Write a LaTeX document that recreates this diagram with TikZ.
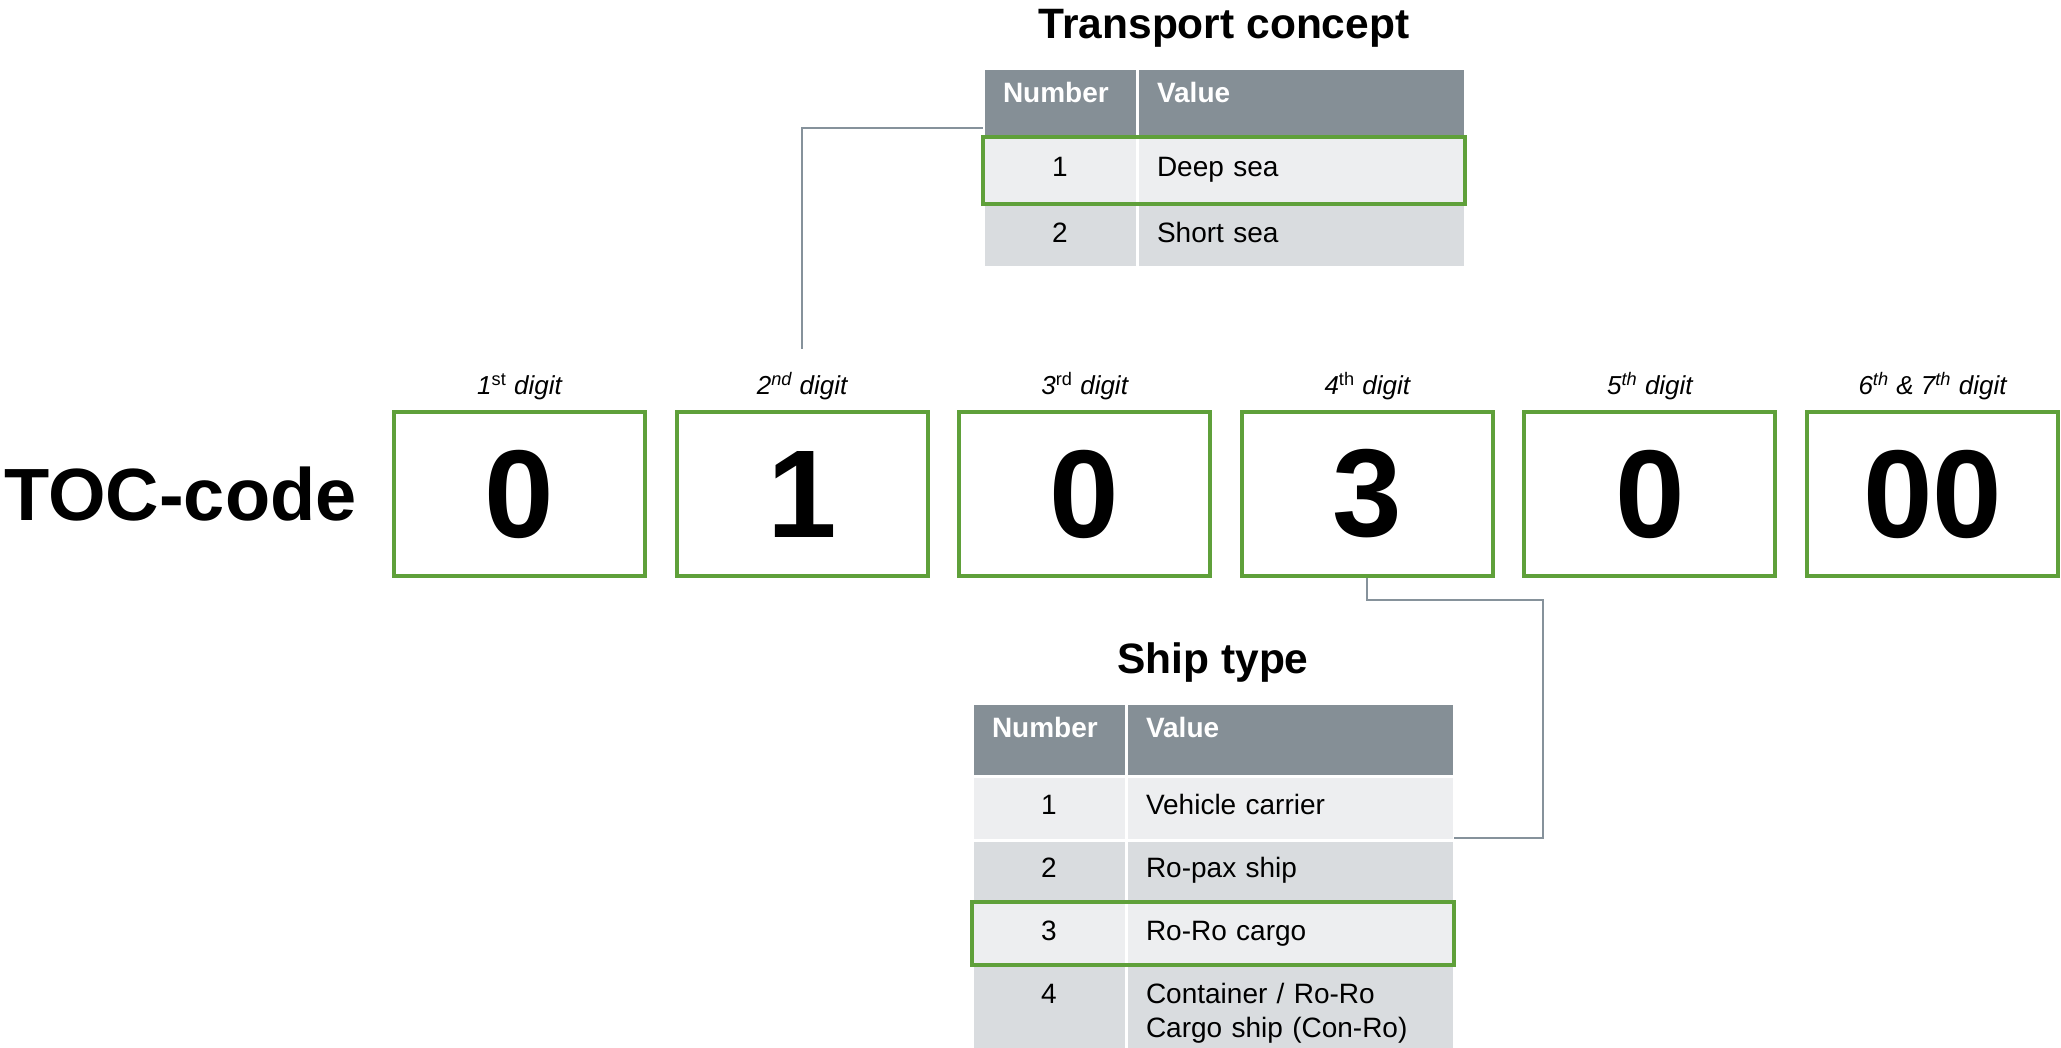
\documentclass[tikz,border=0pt]{standalone}
\usepackage{fontspec}
\setmainfont{Liberation Sans}
\usepackage{tikz}
\usetikzlibrary{positioning,fit}

\definecolor{headgray}{RGB}{133,143,150}
\definecolor{rowlight}{RGB}{237,238,240}
\definecolor{rowdark}{RGB}{217,220,223}
\definecolor{boxgreen}{RGB}{95,160,58}
\definecolor{linkgray}{RGB}{134,146,155}

\begin{document}
\begin{tikzpicture}[x=0.5pt,y=-0.5pt,
    digit/.style={draw=boxgreen, line width=2pt, minimum width=125.5pt, minimum height=82pt, inner sep=0pt,
      font=\fontsize{62.5}{70}\selectfont\bfseries},
    place/.style={inner sep=0pt, font=\fontsize{13}{15}\selectfont\itshape},
    title/.style={font=\fontsize{21.25}{25}\selectfont\bfseries},
    cell/.style={draw=white, line width=1.5pt, outer sep=0pt, inner xsep=10pt, inner ysep=6pt,
      font=\fontsize{14}{17}\selectfont, text height=10pt, text depth=3.5pt},
    numcell/.style={cell, minimum width=77pt, text width=57pt, align=center},
    valcell/.style={cell, minimum width=164pt, text width=144pt, align=left},
    headcell/.style={fill=headgray, text=white, font=\fontsize{14}{17}\selectfont\bfseries,
      inner ysep=7pt, text depth=10pt, align=left},
    pick/.style={draw=boxgreen, line width=2pt, inner sep=0pt},
    link/.style={draw=linkgray, line width=1pt}]
  \useasboundingbox (0,0) rectangle (2061,1048);

  % the code itself
  \node[digit] (d1) at (519.5,494) {0};
  \node[digit] (d2) at (802.1,494) {1};
  \node[digit] (d3) at (1084.7,494) {0};
  \node[digit] (d4) at (1367.3,494) {3};
  \node[digit] (d5) at (1649.9,494) {0};
  \node[digit] (d6) at (1932.5,494) {00};
  \node[inner sep=0pt, font=\fontsize{37}{40}\selectfont\bfseries, left=17.5pt of d1] (toc) {TOC-code};

  \node[place, above=5pt of d1] (l1) {1\textup{\textsuperscript{st}} digit};
  \node[place, above=5pt of d2] (l2) {2\textsuperscript{nd} digit};
  \node[place, above=5pt of d3] (l3) {3\textup{\textsuperscript{rd}} digit};
  \node[place, above=5pt of d4] (l4) {4\textup{\textsuperscript{th}} digit};
  \node[place, above=5pt of d5] (l5) {5\textsuperscript{th} digit};
  \node[place, above=5pt of d6] (l6) {6\textsuperscript{th} \& 7\textsuperscript{th} digit};

  % transport concept table
  \node[title, anchor=base] (tc-title) at (1224,39) {Transport concept};
  \node[numcell, headcell, minimum height=34pt, anchor=north west] (tc-hn) at (983,69) {Number};
  \node[valcell, headcell, minimum height=34pt, right=0pt of tc-hn] (tc-hv) {Value};
  \node[numcell, fill=rowlight, minimum height=33.5pt, below=0pt of tc-hn] (tc-1n) {1};
  \node[valcell, fill=rowlight, minimum height=33.5pt, right=0pt of tc-1n] (tc-1v) {Deep sea};
  \node[numcell, fill=rowdark, minimum height=32pt, below=0pt of tc-1n] (tc-2n) {2};
  \node[valcell, fill=rowdark, minimum height=32pt, right=0pt of tc-2n] (tc-2v) {Short sea};
  \node[pick, fit=(tc-1n)(tc-1v)] (tc-pick) {};

  % ship type table (last row runs off the bottom)
  \node[title, anchor=base] (st-title) at (1213,673) {Ship type};
  \node[numcell, headcell, text depth=12.5pt, minimum height=36.5pt, anchor=north west] (st-hn) at (972,703) {Number};
  \node[valcell, headcell, text depth=12.5pt, minimum height=36.5pt, right=0pt of st-hn] (st-hv) {Value};
  \node[numcell, fill=rowlight, minimum height=32pt, below=0pt of st-hn] (st-1n) {1};
  \node[valcell, fill=rowlight, minimum height=32pt, right=0pt of st-1n] (st-1v) {Vehicle carrier};
  \node[numcell, fill=rowdark, minimum height=31pt, below=0pt of st-1n] (st-2n) {2};
  \node[valcell, fill=rowdark, minimum height=31pt, right=0pt of st-2n] (st-2v) {Ro-pax ship};
  \node[numcell, fill=rowlight, minimum height=31.5pt, below=0pt of st-2n] (st-3n) {3};
  \node[valcell, fill=rowlight, minimum height=31.5pt, right=0pt of st-3n] (st-3v) {Ro-Ro cargo};
  \node[numcell, fill=rowdark, inner ysep=9pt, text depth=20.5pt, below=0pt of st-3n] (st-4n) {4};
  \node[valcell, fill=rowdark, inner ysep=9pt, text depth=20.5pt, right=0pt of st-4n] (st-4v)
    {Container / Ro-Ro\\Cargo ship (Con-Ro)};
  \node[pick, fit=(st-3n)(st-3v)] (st-pick) {};

  % links from the digits to their tables
  \draw[link] ([yshift=11.5pt]l2.north) |- ([yshift=4.5pt]tc-hn.south west);
  \draw[link] (d4.south) -- ++(0,22) -| ([xshift=44.5pt,yshift=1pt]st-1v.south east)
    -- ([yshift=1pt]st-1v.south east);
\end{tikzpicture}
\end{document}
